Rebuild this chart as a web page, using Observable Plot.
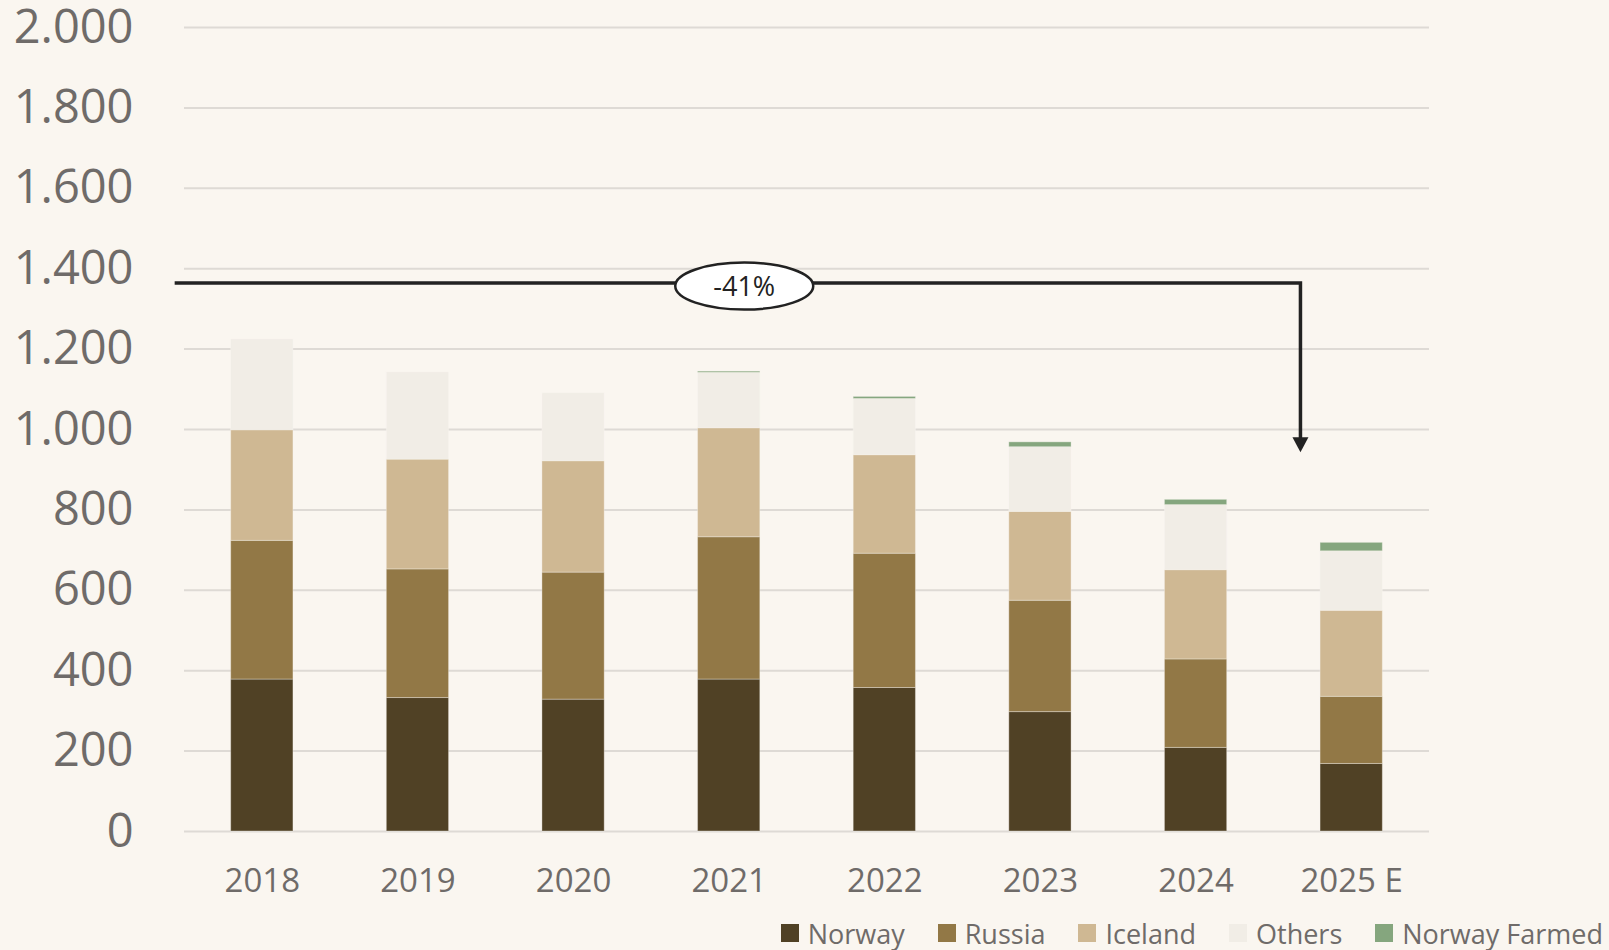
<!DOCTYPE html>
<html>
<head>
<meta charset="utf-8">
<script src="https://cdn.jsdelivr.net/npm/d3@7"></script>
<script src="https://cdn.jsdelivr.net/npm/@observablehq/plot@0.6"></script>
<style>
  html, body { margin: 0; padding: 0; background: #FAF6F0; overflow: hidden; }
  body { width: 1609px; height: 950px; font-family: "Open Sans", sans-serif; }
  #chart svg { display: block; }
  #chart g[aria-label^="y-axis"] text { font-size: 47px; fill: #6F6B69; font-family: "Open Sans", sans-serif; }
  #chart g[aria-label^="x-axis"] text { font-size: 33px; fill: #6F6B69; font-family: "Open Sans", sans-serif; }
  #legend { display: flex; justify-content: flex-end; align-items: center; height: 50px; padding-top: 16px; padding-right: 6px; box-sizing: border-box; }
  .item { display: flex; align-items: center; margin-left: 33px; font-size: 27px; color: #6F6B69; }
  .item:first-child { margin-left: 0; }
  .sw { width: 18px; height: 18px; margin-right: 9px; }
</style>
</head>
<body>
<div id="chart"></div>
<div id="legend"></div>
<script>
// ---- data ----
const years = ["2018", "2019", "2020", "2021", "2022", "2023", "2024", "2025 E"];
const seriesNames = ["Norway", "Russia", "Iceland", "Others", "Norway Farmed"];
const norway  = [378, 332, 328, 378, 357, 297, 208, 168];
const russia  = [345, 320, 316, 354, 334, 277, 220, 167];
const iceland = [275, 273, 277, 271, 245, 221, 222, 214];
const others  = [226, 217, 169, 138, 140, 161, 162, 148];
const farmed  = [0, 0, 0, 3, 5, 12, 13, 21];
const seriesColors = ["#504125", "#927846", "#CFB893", "#F1EDE6", "#85A67E"];
const yTicks = [0, 200, 400, 600, 800, 1000, 1200, 1400, 1600, 1800, 2000];
const yTickLabels = ["0", "200", "400", "600", "800", "1.000", "1.200", "1.400", "1.600", "1.800", "2.000"];
const changeLabel = "-41%";
const changeLineValue = 1363;   // level of the bracket line
const changeArrowEnd = 942;     // where the arrow tip points

const seriesValues = [norway, russia, iceland, others, farmed];
const rows = [];
years.forEach((yr, i) => {
  seriesNames.forEach((s, j) => rows.push({year: yr, series: s, value: seriesValues[j][i]}));
});

function annotation(index, scales) {
  const xs = scales.x, ys = scales.y;
  const x0 = xs(years[0]);
  const x7 = xs(years[years.length - 1]);
  const step = (x7 - x0) / (years.length - 1);
  const yLine = ys(changeLineValue);
  const yTip = ys(changeArrowEnd);
  const xStart = x0 - 0.36 * step;
  const xDown = x7 - 0.126 * step;
  const cx = x0 + 3.3 * step;
  const g = d3.create("svg:g");
  g.append("path")
    .attr("d", `M${xStart},${yLine}H${xDown}V${yTip - 14}`)
    .attr("fill", "none").attr("stroke", "#222").attr("stroke-width", 3.5);
  g.append("path")
    .attr("d", `M${xDown - 8},${yTip - 15}L${xDown + 8},${yTip - 15}L${xDown},${yTip}Z`)
    .attr("fill", "#222");
  g.append("ellipse")
    .attr("cx", cx).attr("cy", yLine + 3).attr("rx", 69).attr("ry", 23.5)
    .attr("fill", "white").attr("stroke", "#222").attr("stroke-width", 2.5);
  g.append("text")
    .attr("x", cx).attr("y", yLine + 3).attr("dy", "0.35em")
    .attr("text-anchor", "middle")
    .attr("font-family", "Open Sans, sans-serif")
    .attr("font-size", 27).attr("fill", "#222")
    .text(changeLabel);
  return g.node();
}

const chart = Plot.plot({
  width: 1609,
  height: 900,
  marginLeft: 184,
  marginRight: 180,
  marginTop: 27,
  marginBottom: 69,
  style: {background: "#FAF6F0", fontFamily: "Open Sans, sans-serif", overflow: "visible"},
  x: {domain: years, paddingInner: 0.6, paddingOuter: 0.3, round: false, label: null, tickSize: 0, tickPadding: 37},
  y: {domain: [0, 2000], ticks: yTicks, tickFormat: (d) => yTickLabels[yTicks.indexOf(d)], label: null, tickSize: 0, tickPadding: 51},
  color: {domain: seriesNames, range: seriesColors},
  marks: [
    Plot.ruleY(yTicks, {stroke: "#DEDAD5", strokeWidth: 2}),
    Plot.barY(rows, Plot.stackY({order: seriesNames}, {x: "year", y: "value", fill: "series", stroke: "#FAF6F0", strokeOpacity: 0.35, strokeWidth: 1})),
    annotation
  ]
});
document.getElementById("chart").appendChild(chart);

const legend = document.getElementById("legend");
seriesNames.forEach((s, i) => {
  const it = document.createElement("div");
  it.className = "item";
  const sw = document.createElement("div");
  sw.className = "sw";
  sw.style.background = seriesColors[i];
  it.appendChild(sw);
  const t = document.createElement("span");
  t.textContent = s;
  it.appendChild(t);
  legend.appendChild(it);
});
</script>
</body>
</html>
